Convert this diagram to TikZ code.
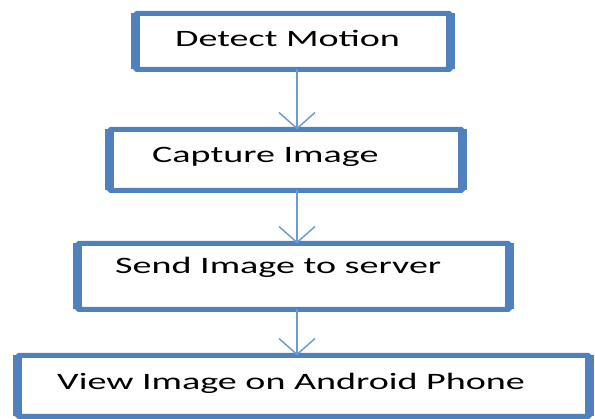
\documentclass[tikz,border=0pt]{standalone}
\usepackage{fontspec}
\usepackage{graphicx}
\newfontfamily\carlito{Carlito}
\usetikzlibrary{arrows.meta}
\definecolor{boxblue}{HTML}{4F81BD}
\definecolor{linkblue}{HTML}{6A9BD3}
\newcommand{\wide}[1]{\scalebox{1.62}[1]{#1}}

\begin{document}
\begin{tikzpicture}[x=1pt, y=-1pt,
  stepbox/.style={draw=boxblue, line width=5pt, rounded corners=1.5pt, outer sep=0pt, inner sep=0pt},
  side/.style={boxblue, line width=9pt},
  txt/.style={anchor=base west, inner sep=0pt, font=\carlito\fontsize{23.5}{28}\selectfont},
  flow/.style={linkblue, line width=1.5pt, -{Straight Barb[length=16pt, width=36pt]}}
]
  \useasboundingbox (0,0) rectangle (595,419);

  % Boxes
  \node[stepbox, minimum width=315pt, minimum height=56pt] (detect) at (293, 41.5) {};
  \node[stepbox, minimum width=353pt, minimum height=61pt] (capture) at (286, 160) {};
  \node[stepbox, minimum width=432pt, minimum height=66pt] (send) at (293.5, 276.5) {};
  \node[stepbox, minimum width=572pt, minimum height=61pt] (view) at (303.5, 386) {};

  % thicker left and right sides
  \foreach \n in {detect, capture, send, view} {
    \draw[side] (\n.north west) -- (\n.south west);
    \draw[side] (\n.north east) -- (\n.south east);
  }

  % Texts
  \node[txt] (detecttxt) at (175, 47) {\wide{Detect Motion}};
  \node[txt] (capturetxt) at (152, 163) {\wide{Capture Image}};
  \node[txt] (sendtxt) at (115, 274) {\wide{Send Image to server}};
  \node[txt] (viewtxt) at (57, 390) {\wide{View Image on Android Phone}};

  % Arrows
  \coordinate (ax) at (297, 0);
  \foreach \a/\b in {detect/capture, capture/send, send/view} {
    \draw[flow] (\a.south -| ax) -- (\b.north -| ax);
  }

\end{tikzpicture}
\end{document}
